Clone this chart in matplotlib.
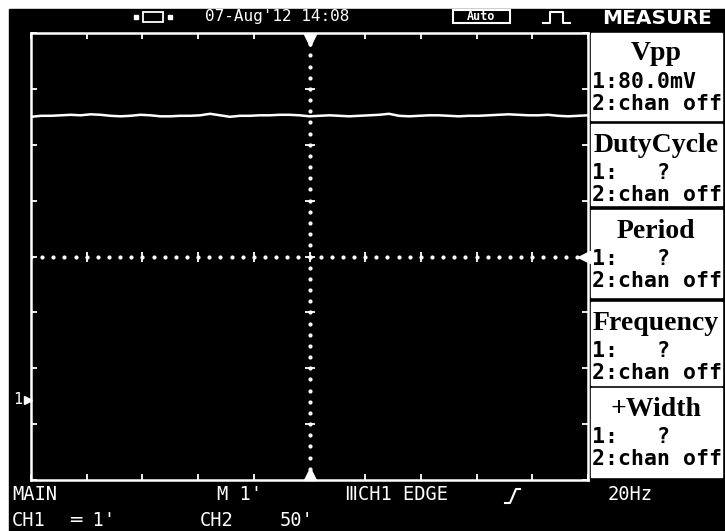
import matplotlib.pyplot as plt
from matplotlib.patches import Rectangle
import numpy as np

# channel 1 trace, in screen divisions (screen is 10 x 8 div, 0 = centre)
trace_y = [2.500, 2.518, 2.518, 2.527, 2.536, 2.527, 2.545, 2.536, 2.518, 2.509,
           2.518, 2.536, 2.527, 2.509, 2.509, 2.518, 2.518, 2.527, 2.554, 2.527,
           2.500, 2.518, 2.518, 2.527, 2.527, 2.536, 2.536, 2.527, 2.509, 2.518,
           2.527, 2.518, 2.509, 2.518, 2.527, 2.536, 2.554, 2.518, 2.509, 2.518,
           2.527, 2.527, 2.518, 2.509, 2.518, 2.518, 2.527, 2.536, 2.545, 2.536,
           2.527, 2.527, 2.536, 2.518, 2.509, 2.518, 2.527]
trace_x = np.linspace(-5, 5, len(trace_y))
ground_ch1 = -2.57
trig_level = 0.0

date_text = "07-Aug'12 14:08"
mode_text = "Auto"
panel_header = "MEASURE"
meas_titles = ["Vpp", "DutyCycle", "Period", "Frequency", "+Width"]
meas_ch1 = ["1:80.0mV", "1:   ?", "1:   ?", "1:   ?", "1:   ?"]
meas_ch2 = ["2:chan off"] * 5
box_tops = [33, 124, 210, 302, 388]
box_heights = [87, 81, 87, 83, 89]
cursor_text = "0.220 s"
bottom_row1 = ["MAIN", "M 1'", "\u2162CH1 EDGE", "20Hz"]
bottom_row1_x = [12, 217, 345, 608]
bottom_row2 = ["CH1", "\u2550 1'", "CH2", "50'"]
bottom_row2_x = [12, 70, 200, 280]

W, H = 725, 531
fig = plt.figure(figsize=(W / 100, H / 100), dpi=100, facecolor="white")

# full-figure overlay in pixel coordinates
ov = fig.add_axes([0, 0, 1, 1])
ov.set_xlim(0, W)
ov.set_ylim(H, 0)
ov.axis("off")
ov.add_patch(Rectangle((9, 9), W - 9, H - 9, color="black", zorder=0))

mono = ["DejaVu Sans Mono", "DejaVu Sans"]

# top bar
ov.text(205, 17, date_text, color="white", fontsize=11.5, family=mono, va="center")
ov.add_patch(Rectangle((453, 10), 57, 13, fill=False, ec="white", lw=1.5))
ov.text(481, 17, mode_text, color="white", fontsize=8.5, family=mono, va="center", ha="center", weight="bold")
ov.plot([543, 550, 550, 563, 563, 570], [23, 23, 12, 12, 23, 23], color="white", lw=1.5)
ov.add_patch(Rectangle((143, 12), 20, 10, fill=False, ec="white", lw=1.3))
ov.add_patch(Rectangle((134, 15), 4, 4, color="white"))
ov.add_patch(Rectangle((168, 15), 4, 4, color="white"))
ov.text(657, 18, panel_header, color="white", fontsize=14.5, weight="bold", va="center", ha="center")

# measurement boxes
for i in range(len(meas_titles)):
    top = box_tops[i]
    ov.add_patch(Rectangle((591, top), 131, box_heights[i], color="white", zorder=1))
    ov.text(656, top + 21, meas_titles[i], color="black", fontsize=20, weight="bold",
            family="Liberation Serif", ha="center", va="center", zorder=2)
    ov.text(592, top + 49, meas_ch1[i], color="black", fontsize=15.5, weight="bold",
            family=mono, va="center", zorder=2)
    ov.text(592, top + 71, meas_ch2[i], color="black", fontsize=15.5, weight="bold",
            family=mono, va="center", zorder=2)

# bottom status lines
for s, x in zip(bottom_row1, bottom_row1_x):
    ov.text(x, 495, s, color="white", fontsize=13.5, family=mono, va="center")
for s, x in zip(bottom_row2, bottom_row2_x):
    ov.text(x, 520, s, color="white", fontsize=13.5, family=mono, va="center")
ov.plot([505, 510, 516, 520], [503, 503, 489, 489], color="white", lw=1.5)

# graticule
ax = fig.add_axes([31 / W, 1 - 480 / H, 557 / W, 447 / H])
ax.set_facecolor("black")
ax.set_xlim(-5, 5)
ax.set_ylim(-4, 4)
for s in ax.spines.values():
    s.set_color("white")
    s.set_linewidth(1.8)
ax.set_xticks(np.arange(-5, 6, 1))
ax.set_yticks(np.arange(-4, 5, 1))
ax.tick_params(direction="in", length=4, width=1.3, color="white",
               top=True, right=True, labelbottom=False, labelleft=False)

dots = np.round(np.arange(-5, 5.01, 0.2), 2)
ax.plot(dots, np.zeros_like(dots), ".", color="white", ms=4)
ax.plot(np.zeros_like(dots[5:-5]), dots[5:-5], ".", color="white", ms=4)
ax.plot(np.arange(-4, 5, 1), np.zeros(9), "|", color="white", ms=7, mew=1.3)
ax.plot(np.zeros(7), np.arange(-3, 4, 1), "_", color="white", ms=7, mew=1.3)

ax.plot(trace_x, trace_y, color="white", lw=1.8)

# markers
ax.plot([0], [3.88], "v", color="white", ms=8, clip_on=False)
ax.plot([0], [-3.9], "^", color="white", ms=8, clip_on=False)
ax.plot([4.92], [trig_level], "<", color="white", ms=8, clip_on=False)
ax.plot([-5.06], [ground_ch1], ">", color="white", ms=6, clip_on=False)
ov.text(13, 400, "1", color="white", fontsize=11, family=mono, va="center")
ov.text(316, 464, cursor_text, color="white", fontsize=9.5, family=mono, va="center")

fig.savefig("out.png", dpi=100, facecolor="white")
